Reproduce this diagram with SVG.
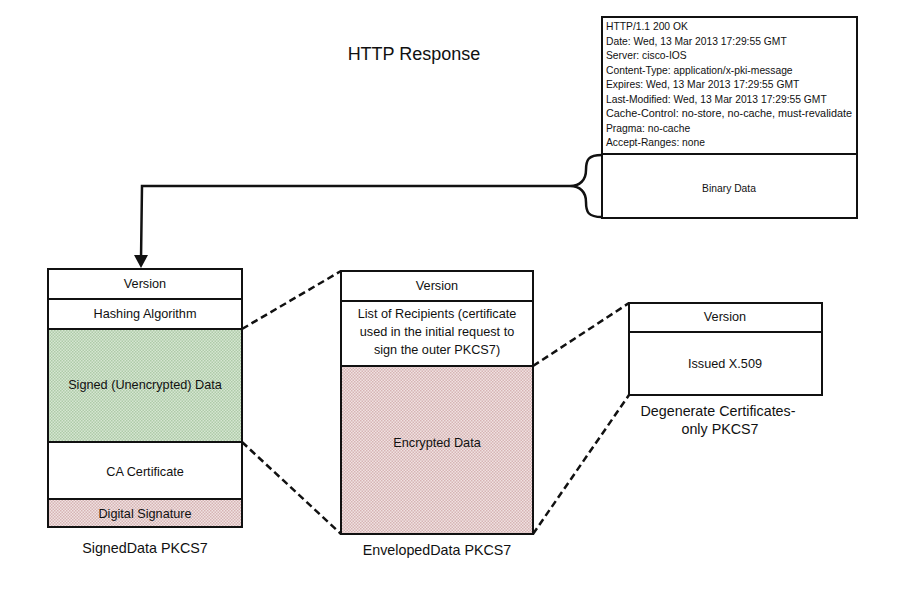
<svg xmlns="http://www.w3.org/2000/svg" width="900" height="597" viewBox="0 0 900 597">
<defs>
<pattern id="pg" width="3" height="3" patternUnits="userSpaceOnUse">
<rect width="3" height="3" fill="#d6e6d2"/>
<rect width="1.5" height="1.5" fill="#aecba8"/>
<rect x="1.5" y="1.5" width="1.5" height="1.5" fill="#aecba8"/>
</pattern>
<pattern id="pr" width="3" height="3" patternUnits="userSpaceOnUse">
<rect width="3" height="3" fill="#f0e2e2"/>
<rect width="1.5" height="1.5" fill="#d6b4b4"/>
<rect x="1.5" y="1.5" width="1.5" height="1.5" fill="#d6b4b4"/>
</pattern>
</defs>
<style>
text{font-family:"Liberation Sans",Arial,sans-serif;fill:#111}
.box{fill:#fff;stroke:#111;stroke-width:2}
.ln{stroke:#111;stroke-width:2}
.cell{font-size:12.7px;text-anchor:middle}
.hdr{font-size:10.3px}
.cap{font-size:14.3px;text-anchor:middle}
.dash{stroke:#111;stroke-width:2.5;stroke-dasharray:7,4;fill:none}
</style>
<rect width="900" height="597" fill="#fff"/>
<text x="414" y="60" font-size="18" text-anchor="middle">HTTP Response</text>

<g id="http">
<rect class="box" x="602" y="17" width="255" height="201"/>
<line class="ln" x1="602" y1="154" x2="857" y2="154"/>
<text class="hdr" x="606" y="30">HTTP/1.1 200 OK</text>
<text class="hdr" x="606" y="44.5">Date: Wed, 13 Mar 2013 17:29:55 GMT</text>
<text class="hdr" x="606" y="59">Server: cisco-IOS</text>
<text class="hdr" x="606" y="73.5">Content-Type: application/x-pki-message</text>
<text class="hdr" x="606" y="88">Expires: Wed, 13 Mar 2013 17:29:55 GMT</text>
<text class="hdr" x="606" y="102.5">Last-Modified: Wed, 13 Mar 2013 17:29:55 GMT</text>
<text class="hdr" x="606" y="117" textLength="246" lengthAdjust="spacingAndGlyphs">Cache-Control: no-store, no-cache, must-revalidate</text>
<text class="hdr" x="606" y="131.5">Pragma: no-cache</text>
<text class="hdr" x="606" y="146">Accept-Ranges: none</text>
<text class="hdr" x="729" y="192" font-size="10.8" text-anchor="middle">Binary Data</text>
</g>

<g id="signed">
<rect class="box" x="48" y="269" width="194" height="258"/>
<rect x="48" y="329" width="194" height="113" fill="url(#pg)"/>
<rect x="48" y="499" width="194" height="28" fill="url(#pr)"/>
<rect x="48" y="269" width="194" height="258" fill="none" stroke="#111" stroke-width="2"/>
<line class="ln" x1="48" y1="299" x2="242" y2="299"/>
<line class="ln" x1="48" y1="329" x2="242" y2="329"/>
<line class="ln" x1="48" y1="442" x2="242" y2="442"/>
<line class="ln" x1="48" y1="499" x2="242" y2="499"/>
<text class="cell" x="145" y="288">Version</text>
<text class="cell" x="145" y="318">Hashing Algorithm</text>
<text class="cell" x="145" y="389">Signed (Unencrypted) Data</text>
<text class="cell" x="145" y="476">CA Certificate</text>
<text class="cell" x="145" y="518">Digital Signature</text>
<text class="cap" x="145" y="553">SignedData PKCS7</text>
</g>

<g id="enveloped">
<rect class="box" x="341" y="271" width="192" height="263"/>
<rect x="341" y="366" width="192" height="168" fill="url(#pr)"/>
<rect x="341" y="271" width="192" height="263" fill="none" stroke="#111" stroke-width="2"/>
<line class="ln" x1="341" y1="301" x2="533" y2="301"/>
<line class="ln" x1="341" y1="366" x2="533" y2="366"/>
<text class="cell" x="437" y="290">Version</text>
<text class="cell" x="437" y="318">List of Recipients (certificate</text>
<text class="cell" x="437" y="336">used in the initial request to</text>
<text class="cell" x="437" y="354">sign the outer PKCS7)</text>
<text class="cell" x="437" y="447">Encrypted Data</text>
<text class="cap" x="437" y="555">EnvelopedData PKCS7</text>
</g>

<g id="degenerate">
<rect class="box" x="629" y="303" width="193" height="92"/>
<line class="ln" x1="629" y1="332" x2="822" y2="332"/>
<text class="cell" x="725" y="321">Version</text>
<text class="cell" x="725" y="368">Issued X.509</text>
<text class="cap" x="718" y="416">Degenerate Certificates-</text>
<text class="cap" x="720" y="434">only PKCS7</text>
</g>

<g id="connectors">
<path d="M602,155 C588,155 586,160 586,170 C586,180 580,186 570,186 C580,186 586,192 586,202 C586,212 588,217 602,217" fill="none" stroke="#111" stroke-width="2.5"/>
<path d="M570,186 L142,186 L141,260" fill="none" stroke="#111" stroke-width="2.5"/>
<path d="M134,255 L148,255 L141,268 Z" fill="#111"/>
<line class="dash" x1="242" y1="329" x2="341" y2="271"/>
<line class="dash" x1="242" y1="442" x2="341" y2="534"/>
<line class="dash" x1="533" y1="366" x2="629" y2="303"/>
<line class="dash" x1="533" y1="534" x2="629" y2="395"/>
</g>
</svg>
